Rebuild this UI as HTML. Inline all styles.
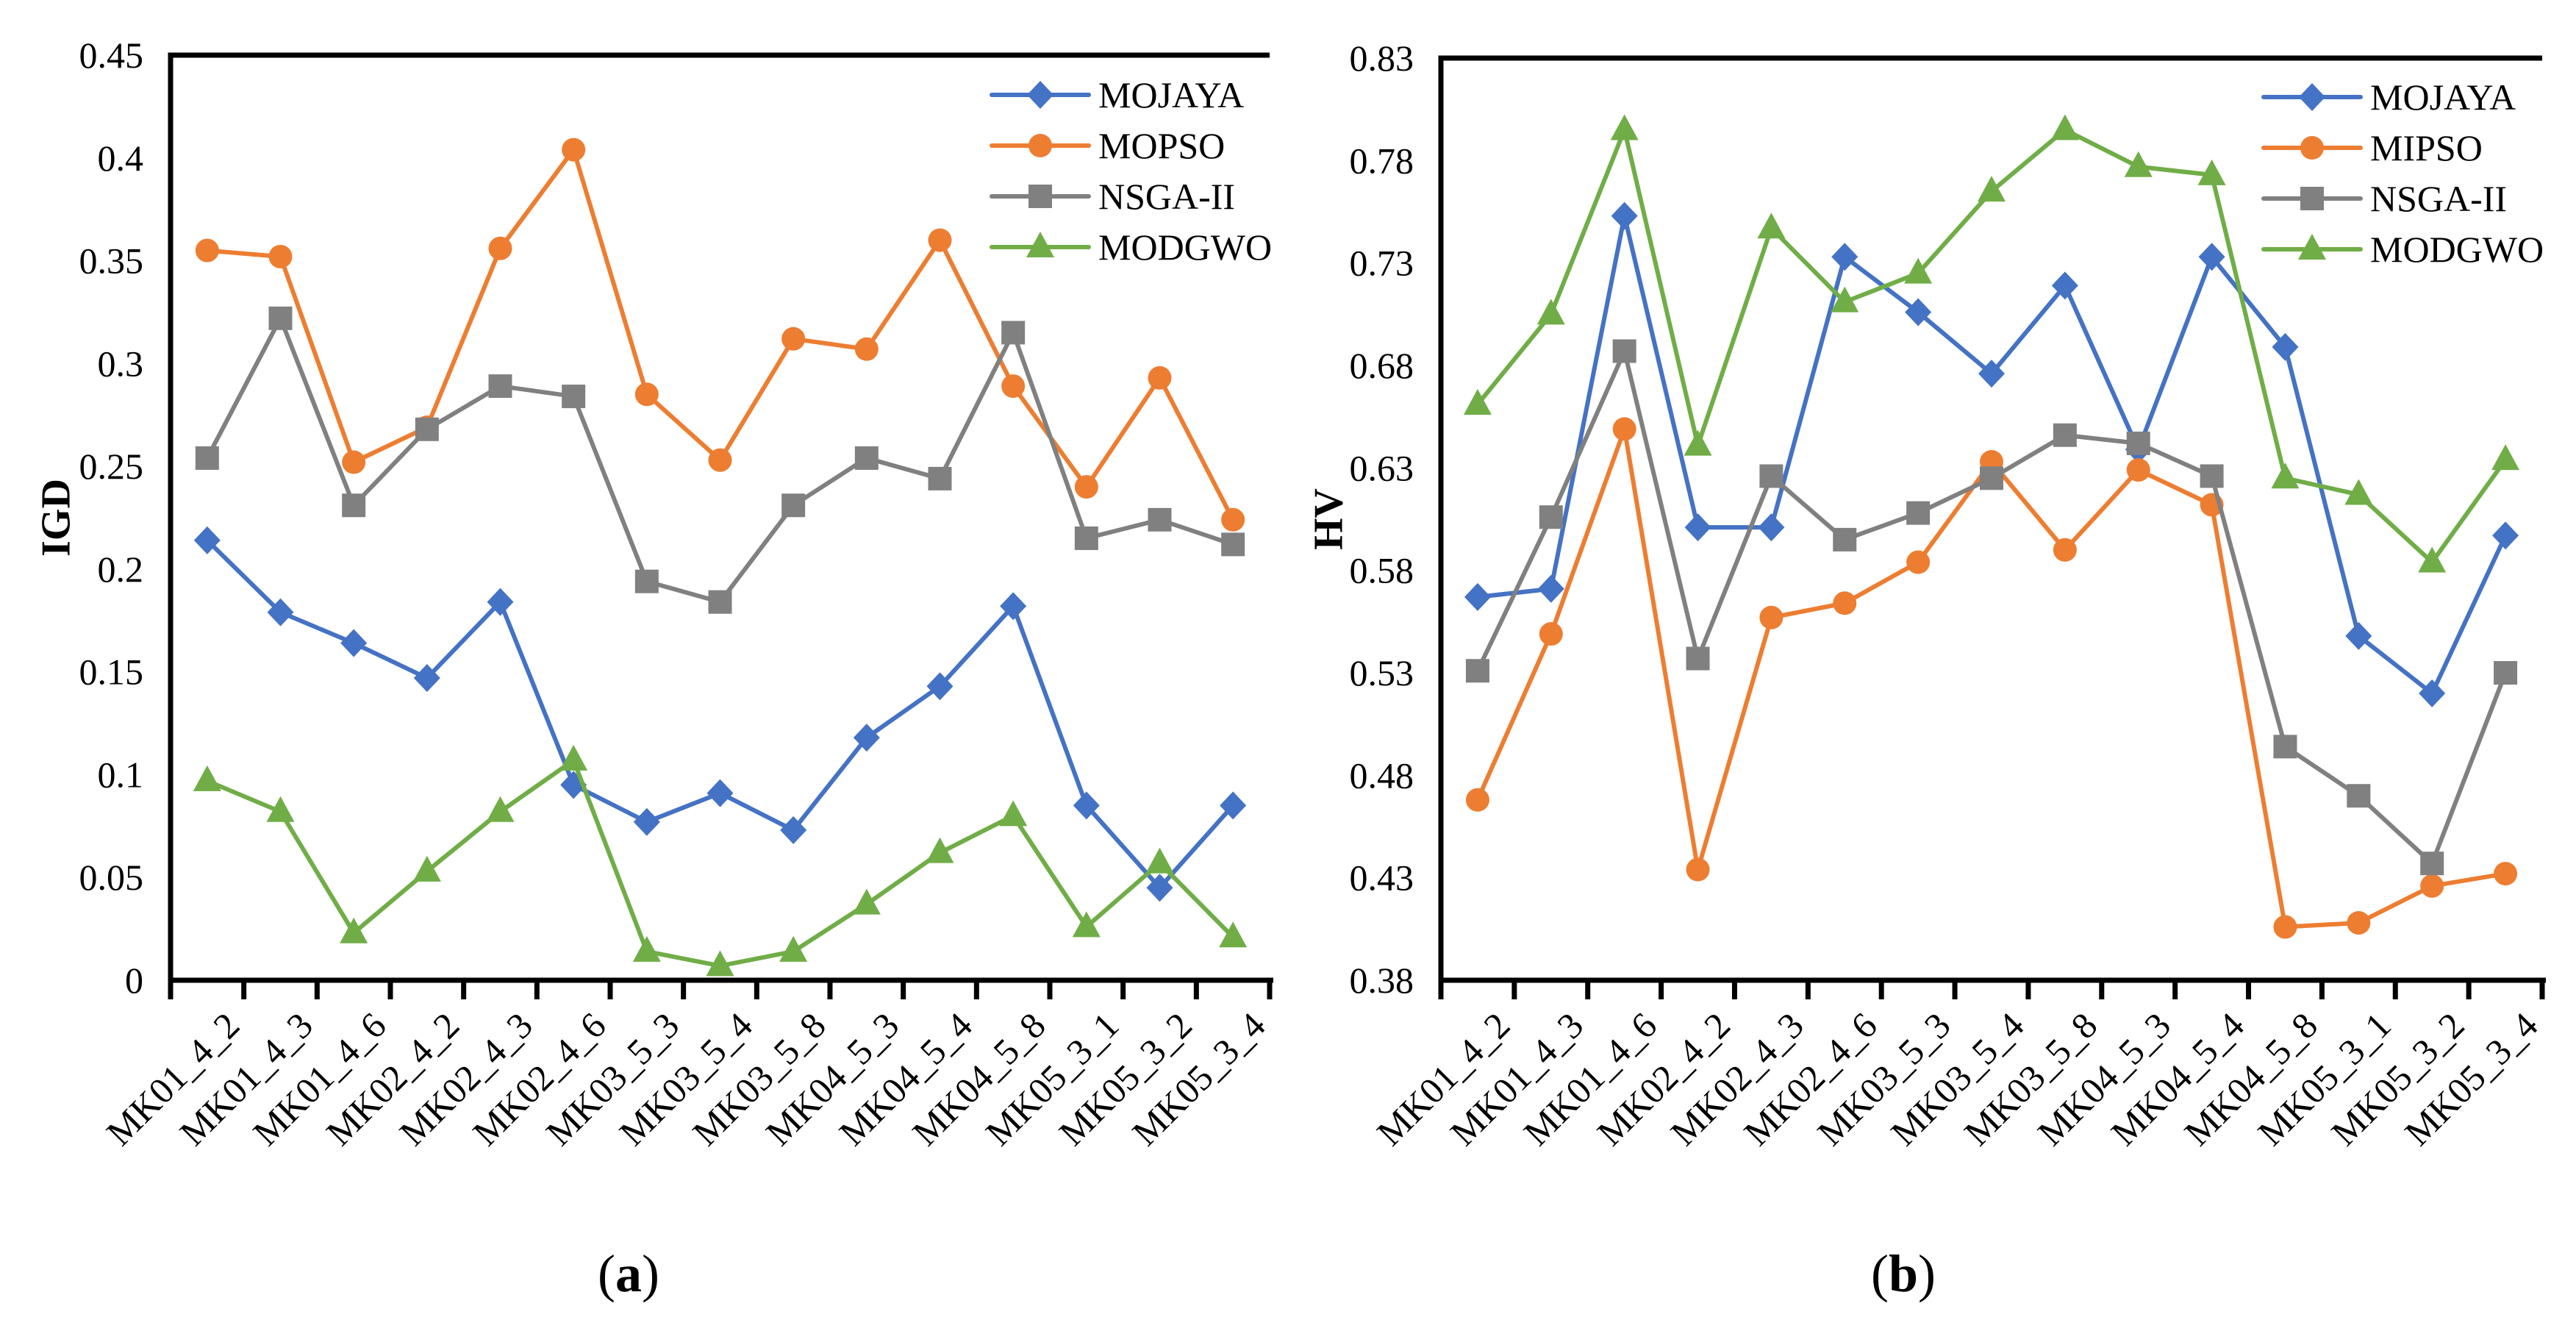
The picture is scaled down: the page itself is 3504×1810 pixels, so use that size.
<!DOCTYPE html>
<html><head><meta charset="utf-8"><style>
html,body{margin:0;padding:0;background:#fff;}
svg{display:block;font-family:"Liberation Serif",serif;}
</style></head><body>
<svg id="root" width="3504" height="1810" viewBox="0 0 3504 1810" xmlns="http://www.w3.org/2000/svg">
<g id="chartA"></g>
<g id="chartB"></g>
</svg>
<script>
const categories = ["MK01_4_2","MK01_4_3","MK01_4_6","MK02_4_2","MK02_4_3","MK02_4_6","MK03_5_3","MK03_5_4","MK03_5_8","MK04_5_3","MK04_5_4","MK04_5_8","MK05_3_1","MK05_3_2","MK05_3_4"];
const igdMojaya = [0.214,0.179,0.164,0.147,0.184,0.095,0.077,0.091,0.073,0.118,0.143,0.182,0.085,0.045,0.085];
const igdMopso = [0.355,0.352,0.252,0.269,0.356,0.404,0.285,0.253,0.312,0.307,0.360,0.289,0.240,0.293,0.224];
const igdNsga = [0.254,0.322,0.231,0.268,0.289,0.284,0.194,0.184,0.231,0.254,0.244,0.315,0.215,0.224,0.212];
const igdModgwo = [0.097,0.082,0.023,0.053,0.082,0.107,0.014,0.007,0.014,0.037,0.062,0.080,0.026,0.057,0.021];
const igdTicks = ["0","0.05","0.1","0.15","0.2","0.25","0.3","0.35","0.4","0.45"];
const hvMojaya = [0.567,0.571,0.753,0.601,0.601,0.733,0.706,0.676,0.719,0.639,0.733,0.689,0.548,0.520,0.597];
const hvMipso = [0.468,0.549,0.649,0.434,0.557,0.564,0.584,0.633,0.590,0.629,0.612,0.406,0.408,0.426,0.432];
const hvNsga = [0.531,0.606,0.687,0.537,0.626,0.595,0.608,0.625,0.646,0.642,0.626,0.494,0.470,0.437,0.530];
const hvModgwo = [0.661,0.705,0.795,0.641,0.747,0.711,0.725,0.765,0.795,0.777,0.773,0.625,0.617,0.584,0.634];
const hvTicks = ["0.38","0.43","0.48","0.53","0.58","0.63","0.68","0.73","0.78","0.83"];

const NS="http://www.w3.org/2000/svg";
function mk(parent,tag,attrs){const e=document.createElementNS(NS,tag);for(const k in attrs)e.setAttribute(k,attrs[k]);parent.appendChild(e);return e;}

function drawMarker(g,shape,x,y,color){
  let m;
  if(shape==="diamond") m=mk(g,"polygon",{points:`${x},${y-19} ${x+18},${y} ${x},${y+19} ${x-18},${y}`,fill:color});
  else if(shape==="circle") m=mk(g,"circle",{cx:x,cy:y,r:16,fill:color});
  else if(shape==="square") m=mk(g,"rect",{x:x-16,y:y-16,width:32,height:32,fill:color});
  else m=mk(g,"polygon",{points:`${x},${y-21} ${x+19},${y+14} ${x-19},${y+14}`,fill:color});
  return m;
}

function drawChart(gid,cfg){
  const g=document.getElementById(gid);
  const {L,R,T,B,min,max,ticks,series,ylabel,letter,lx,legX,legY,letterX}=cfg;
  const n=categories.length, step=(R-L)/n;
  const xs=i=>L+step*(i+0.5);
  const ys=v=>B-(v-min)/(max-min)*(B-T);
  ticks.forEach((t,i)=>{
    const v=min+(max-min)*i/(ticks.length-1);
    const e=mk(g,"text",{x:L-37,y:ys(v)+17,"text-anchor":"end","font-size":50,fill:"#000"});
    e.textContent=t;
    
    
  });
  const ax=mk(g,"path",{d:`M${R},${T} L${L},${T} L${L},${B} L${R+5},${B}`,fill:"none",stroke:"#000","stroke-width":7});
  
  
  for(let i=0;i<=n;i++){
    const tk=mk(g,"line",{x1:L+step*i,x2:L+step*i,y1:B,y2:B+26,stroke:"#000","stroke-width":7});
    
    
  }
  categories.forEach((c,i)=>{
    const x=xs(i)+22,y=B+40;
    const e=mk(g,"text",{x:0,y:0,"text-anchor":"end","font-size":50,transform:`translate(${x},${y}) rotate(-45)`,dy:"0.7em"});
    e.textContent=c;
    
    
  });
  series.forEach(s=>{
    const sg=mk(g,"g",{});
    
    
    const pts=s.data.map((v,i)=>`${xs(i)},${ys(v)}`).join(" ");
    const pl=mk(sg,"polyline",{points:pts,fill:"none",stroke:s.color,"stroke-width":6,"stroke-linejoin":"round"});
    
    
    s.data.forEach((v,i)=>{
      const m=drawMarker(sg,s.shape,xs(i),ys(v),s.color);
      
      
    });
  });
  const lg=mk(g,"g",{});
  
  
  series.forEach((s,i)=>{
    const y=legY+i*69;
    const eg=mk(lg,"g",{});
    
    
    mk(eg,"line",{x1:legX,x2:legX+132,y1:y,y2:y,stroke:s.color,"stroke-width":6,"stroke-linecap":"round"});
    drawMarker(eg,s.shape,legX+66,y,s.color);
    const t=mk(eg,"text",{x:legX+145,y:y+17,"font-size":50});
    t.textContent=s.name;
  });
  const yl=mk(g,"text",{x:0,y:0,"text-anchor":"middle","font-size":56,"font-weight":"bold",transform:`translate(${lx},${(T+B)/2}) rotate(-90)`,dy:"0.35em"});
  yl.textContent=ylabel;
  
  
  const cap=mk(g,"text",{x:letterX,y:1756,"text-anchor":"middle","font-size":72});
  cap.innerHTML=`(<tspan font-weight="bold">${letter}</tspan>)`;
  
  
}

drawChart("chartA",{L:232,R:1727,T:75,B:1333,min:0,max:0.45,ticks:igdTicks,ylabel:"IGD",letter:"a",lx:75,legX:1349,legY:129,letterX:855,
  series:[{name:"MOJAYA",data:igdMojaya,color:"#4472C4",shape:"diamond"},
          {name:"MOPSO",data:igdMopso,color:"#ED7D31",shape:"circle"},
          {name:"NSGA-II",data:igdNsga,color:"#808080",shape:"square"},
          {name:"MODGWO",data:igdModgwo,color:"#70AD47",shape:"triangle"}]});
drawChart("chartB",{L:1960,R:3458,T:79,B:1333,min:0.38,max:0.83,ticks:hvTicks,ylabel:"HV",letter:"b",lx:1806,legX:3079,legY:132,letterX:2589,
  series:[{name:"MOJAYA",data:hvMojaya,color:"#4472C4",shape:"diamond"},
          {name:"MIPSO",data:hvMipso,color:"#ED7D31",shape:"circle"},
          {name:"NSGA-II",data:hvNsga,color:"#808080",shape:"square"},
          {name:"MODGWO",data:hvModgwo,color:"#70AD47",shape:"triangle"}]});
</script>
</body></html>
